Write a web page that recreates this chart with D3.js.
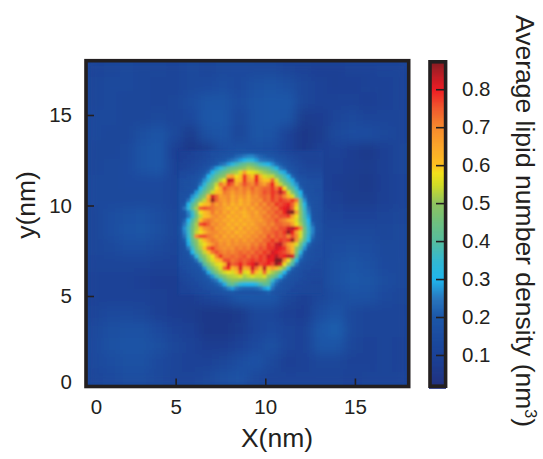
<!DOCTYPE html>
<html lang="en">
<head>
	<meta charset="UTF-8">
	<title>Average lipid number density</title>
	<script src="https://cdn.jsdelivr.net/npm/d3@7"></script>
	<style>
		html, body { margin: 0; padding: 0; background: #fff; }
		text { font-family: "Liberation Sans", Arial, sans-serif; fill: #231f20; }
	</style>
</head>
<body>
	<svg id="content" width="543" height="459"></svg>
<script>
	// values below are density x 100, top row first
	var backgroundRows = [
		[11,12,13,12,12,11,13,12,13,14,13,13,11,10, 9, 9,10,10,11,11],
		[12,13,13,12,11,11,13,14,15,14,17,18,16,12,10, 9, 9,10,10,11],
		[12,13,12,12,11,12,15,19,19,15,19,20,20,12,10,10,10, 9,10,11],
		[13,13,12,12,13,12,14,20,20,13,19,20,19, 7, 8,11,13,11,11,11],
		[13,12,12,16,19,13, 7,17,19,12,19,18,10, 5, 7,13,15,15,13,11],
		[12,12,13,18,20, 9, 5, 7,15,17,16,15,10, 5, 9,10, 8, 6, 9,12],
		[12,13,14,18,20,10, 5, 8,14,20,20,20,15, 9, 9, 9, 8, 7, 9,12],
		[13,13,14,14,14,11, 8,12,20,20,20,20,20,14,10, 8, 7, 6, 9,11],
		[13,13,13,13,13,11,11,16,20,20,20,20,20,16,11, 9, 7, 7, 9,11],
		[12,15,17,18,15,12,14,20,20,20,20,20,20,17,12,11,10,10,11,12],
		[12,15,18,19,16,12,15,20,20,20,20,20,20,20,14,13,13,13,12,13],
		[12,13,15,15,13,11,13,20,20,20,20,20,20,20,14,15,16,15,13,13],
		[11,11,11,11,10,10,11,20,20,20,20,20,20,16,13,17,19,17,14,13],
		[10,10,10, 9, 8, 8, 9,16,20,20,20,20,20,13,13,17,20,19,15,13],
		[10,10,10,10, 9, 8, 8,11,14,20,20,20,12, 9,12,15,17,17,14,12],
		[11,13,13,12, 9, 8, 7, 5, 5, 6,12,12, 9, 8,15,19,13,11,11,11],
		[13,16,17,17,14,10, 9, 5, 5, 7,11,14,11,10,20,21,13,11,11,11],
		[14,17,18,18,16,12,10, 8, 8,10,14,17,11,10,19,19,12,10,11,10],
		[13,15,17,17,14,11,10,10,12,15,18,13, 9,10,12,12,10,10,11,10],
		[12,14,15,15,13,11,11,13,16,18,13,11,11,11,11,11,10,11,11,11]
	];

	// finer cells over the lipid disc
	var discRows = [
		[ 9, 9, 9,10,11,12,13,14,15,15,16,16,17,17,18,18,19,19,19,18,18,17,17,16,15,14,13,12,11,10,10,10,10,10,10,11],
		[ 9, 9,10,10,11,12,13,14,15,16,17,18,19,20,22,23,25,26,26,24,22,21,20,19,17,16,15,14,13,12,11,10,10,10,10,11],
		[ 9,10,10,11,12,13,14,15,16,18,19,20,22,24,26,28,31,34,33,28,25,24,23,22,20,18,17,15,14,13,12,11,10,10,10,11],
		[10,10,11,12,13,14,15,16,18,20,23,25,28,33,37,40,43,46,44,40,36,33,30,27,23,21,19,17,15,14,13,12,11,11,11,11],
		[10,11,12,13,14,15,17,20,23,28,33,37,41,44,46,48,50,52,51,49,46,44,41,37,32,25,22,19,17,15,14,13,12,12,12,12],
		[13,13,14,14,15,17,20,23,30,37,41,45,48,51,52,56,66,58,57,55,53,51,49,45,41,34,29,22,19,16,14,14,13,13,13,13],
		[14,14,15,16,17,19,22,30,37,43,47,50,64,66,58,60,78,66,60,80,62,56,54,54,48,43,37,30,22,19,16,15,14,14,14,14],
		[15,16,16,17,18,21,27,35,42,47,53,58,84,82,60,62,78,68,66,80,66,60,60,74,56,48,42,36,29,21,18,17,16,15,15,15],
		[15,16,16,17,19,24,33,41,47,54,72,66,78,74,64,70,76,72,70,76,70,66,72,80,62,54,48,42,35,27,19,17,16,16,15,15],
		[15,16,17,18,20,30,38,45,50,58,64,76,72,70,72,68,72,70,74,70,72,74,74,78,72,80,58,48,41,33,22,18,16,16,15,15],
		[16,16,17,19,28,37,44,50,55,60,62,72,70,66,70,68,71,66,72,70,72,76,74,78,76,84,76,56,48,39,30,19,17,16,15,15],
		[16,17,18,27,35,43,49,62,82,74,66,68,70,64,68,66,69,64,70,68,72,74,72,78,74,76,70,62,56,44,34,23,18,16,16,15],
		[16,17,24,33,42,49,54,66,86,74,68,66,70,64,68,62,67,64,68,70,68,74,72,77,74,78,76,74,78,72,44,27,19,17,16,15],
		[17,20,31,40,48,58,60,62,72,66,70,64,68,62,66,62,66,64,70,66,72,68,74,72,78,76,78,80,74,60,46,32,21,17,16,15],
		[17,24,33,43,52,74,76,74,72,70,68,66,62,66,62,68,64,68,64,70,68,72,70,74,72,78,80,82,74,58,48,35,24,17,16,16],
		[17,19,26,36,48,58,60,64,72,66,70,64,68,62,66,64,62,66,68,64,70,68,73,72,76,74,80,86,90,66,50,37,26,18,16,15],
		[16,18,25,35,46,54,60,62,68,70,66,68,62,66,63,66,62,64,68,66,68,72,70,74,72,76,76,78,66,58,50,38,28,19,16,15],
		[16,22,30,40,50,60,70,72,70,66,68,64,66,62,66,62,66,64,66,68,66,70,72,72,76,72,70,64,60,56,50,40,30,20,17,15],
		[17,25,35,44,52,76,78,74,68,70,66,68,62,66,62,66,62,66,64,68,70,68,72,70,74,74,72,72,66,58,52,42,33,23,17,16],
		[19,27,37,46,52,60,68,70,72,66,68,64,66,62,68,62,68,64,68,66,70,72,70,74,72,76,76,82,84,80,70,46,35,26,18,16],
		[18,26,36,46,54,58,62,68,70,70,66,68,64,68,62,66,64,68,66,70,68,72,72,74,76,74,78,86,80,66,56,46,36,26,18,16],
		[17,24,35,46,70,76,76,72,70,66,70,64,68,64,68,64,68,66,70,68,72,70,76,72,76,74,76,70,76,70,56,44,34,24,17,16],
		[16,21,32,43,50,56,62,68,72,70,66,68,66,70,66,70,66,70,68,72,70,74,74,78,74,78,76,78,86,68,52,41,31,21,17,16],
		[16,18,29,40,48,54,58,62,68,72,68,70,66,70,68,70,70,68,72,70,74,72,78,76,82,84,74,66,62,56,46,35,23,18,16,15],
		[15,17,25,36,46,52,60,74,78,72,70,68,70,68,72,70,72,70,74,72,76,74,78,78,82,80,78,70,62,50,40,27,19,17,15,15],
		[15,17,19,30,41,48,54,60,72,76,72,70,72,70,72,74,72,74,72,76,74,78,76,82,80,78,76,72,64,48,33,21,17,16,15,15],
		[15,16,18,22,34,44,50,54,58,70,78,72,72,74,72,74,76,72,76,74,78,76,82,80,84,78,80,84,82,42,26,19,17,16,15,15],
		[15,16,17,19,24,38,46,52,56,60,64,76,76,72,74,76,74,76,78,76,78,76,80,80,88,92,70,58,46,32,21,18,16,15,15,14],
		[15,15,16,18,19,24,40,47,52,56,58,62,82,74,76,80,74,78,80,84,76,78,80,76,86,82,58,50,38,24,18,16,15,15,14,14],
		[14,15,16,17,18,20,27,41,47,52,56,74,80,62,66,82,64,66,82,72,62,84,60,66,62,54,48,33,22,18,17,15,15,14,14,14],
		[13,14,15,16,17,18,21,29,40,47,52,55,58,56,60,76,56,58,76,60,56,74,56,52,48,42,30,22,18,17,15,14,14,13,13,13],
		[12,13,14,15,16,17,19,22,27,38,45,49,52,53,54,56,52,54,56,54,54,56,50,46,40,30,23,19,17,16,15,14,13,13,13,13],
		[11,12,13,14,15,16,18,19,22,25,33,42,47,50,50,48,47,47,47,48,50,49,44,36,26,22,19,17,16,15,14,13,13,12,12,12],
		[10,11,12,13,14,15,16,18,19,21,24,29,40,43,38,33,31,30,30,33,38,42,40,27,22,19,17,16,15,14,13,13,12,12,12,12],
		[10,10,11,12,13,14,15,16,17,18,20,22,26,28,25,23,22,22,22,23,25,28,30,24,20,18,17,16,14,13,13,12,12,12,12,12],
		[10,10,10,11,12,13,13,14,15,16,17,18,19,20,19,18,18,18,18,18,19,20,21,19,17,16,15,14,13,13,12,12,12,12,12,12]
	];

	var colorStops = [0.013,0.05,0.1,0.2,0.25,0.3,0.35,0.4,0.45,0.5,0.55,0.58,0.6,0.64,0.7,0.75,0.8,0.84,0.877];
	var colorValues = ["#23307e","#1f3888","#1b4297","#1c57a8","#2a78bf","#20b6ec","#35b8d0","#56bd9e","#6fc080","#8fc45f","#d3dc26","#f2e01c","#fdc121","#fcac2a","#f68a2e","#f15a2f","#ed1c24","#b81e26","#7f1d22"];

	var axisTicks = [0,5,10,15];
	var colorTicks = [0.1,0.2,0.3,0.4,0.5,0.6,0.7,0.8];
	var discExtentX = [5.16,13.19];
	var discExtentY = [13.05,5.09];

	var ink = "#231f20";
	var svg = d3.select("#content");

	var xScale = d3.scaleLinear().domain([0,18]).range([86,408.7]);
	var yScale = d3.scaleLinear().domain([0,18]).range([386.5,60.7]);
	var colorScale = d3.scaleLinear().domain(colorStops).range(colorValues).clamp(true);

	var defs = svg.append("defs");
	defs.append("clipPath").attr("id","plot-clip").append("rect")
		.attr("x",xScale(0)).attr("y",yScale(18))
		.attr("width",xScale(18)-xScale(0)).attr("height",yScale(0)-yScale(18));
	function addBlur(id, size) {
		defs.append("filter").attr("id",id)
			.attr("filterUnits","userSpaceOnUse")
			.attr("x",0).attr("y",0).attr("width",543).attr("height",459)
			.append("feGaussianBlur").attr("stdDeviation",size);
	}
	addBlur("blur-wide",5.5);
	addBlur("blur-fine",1.3);

	// draw one table of cells with band scales
	function drawCells(parent, rows, extentX, extentY) {
		var colBand = d3.scaleBand().domain(d3.range(rows[0].length)).range(extentX.map(xScale));
		var rowBand = d3.scaleBand().domain(d3.range(rows.length)).range(extentY.map(yScale));
		parent.selectAll("g")
			.data(rows)
			.enter()
			.append("g")
			.attr("transform",function(d,i){ return "translate(0," + rowBand(i) + ")"; })
			.selectAll("rect")
			.data(function(d){ return d; })
			.enter()
			.append("rect")
			.attr("x",function(d,i){ return colBand(i); })
			.attr("width",colBand.bandwidth()+0.5)
			.attr("height",rowBand.bandwidth()+0.5)
			.attr("fill",function(d){ return colorScale(d/100); });
	}

	var plot = svg.append("g").attr("clip-path","url(#plot-clip)");
	plot.append("rect")
		.attr("x",xScale(0)).attr("y",yScale(18))
		.attr("width",xScale(18)-xScale(0)).attr("height",yScale(0)-yScale(18))
		.attr("fill",colorScale(0.12));
	drawCells(plot.append("g").attr("filter","url(#blur-wide)"), backgroundRows, [0,18], [18,0]);
	drawCells(plot.append("g").attr("filter","url(#blur-fine)"), discRows, discExtentX, discExtentY);

	// axes, ticks point inward
	var xAxis = svg.append("g")
		.attr("transform","translate(0," + yScale(0) + ")")
		.call(d3.axisBottom(xScale).tickValues(axisTicks).tickSize(-8).tickPadding(13));
	var yAxis = svg.append("g")
		.attr("transform","translate(" + xScale(0) + ",0)")
		.call(d3.axisLeft(yScale).tickValues(axisTicks).tickSize(-8).tickPadding(14));
	[xAxis,yAxis].forEach(function(a){
		a.select(".domain").remove();
		a.selectAll("line").attr("stroke",ink).attr("stroke-width",1.6)
			.filter(function(d){ return d === 0; }).remove();
		a.selectAll("text").style("font-size","20.5px").attr("font-family",null);
	});
	// the zeros sit off the corner
	xAxis.selectAll("text").filter(function(d){ return d === 0; }).attr("dx",10);
	yAxis.selectAll("text").filter(function(d){ return d === 0; }).attr("y",-5).attr("x",-14);

	svg.append("rect")
		.attr("x",xScale(0)).attr("y",yScale(18))
		.attr("width",xScale(18)-xScale(0)).attr("height",yScale(0)-yScale(18))
		.attr("fill","none").attr("stroke",ink).attr("stroke-width",3.6);

	svg.append("text").attr("x",277).attr("y",447).attr("text-anchor","middle")
		.style("font-size","26.5px").text("X(nm)");
	svg.append("text").attr("transform","translate(35,205) rotate(-90)").attr("text-anchor","middle")
		.style("font-size","26.5px").text("y(nm)");

	// colour bar
	var barScale = d3.scaleLinear().domain([0.013,0.877]).range([388,60]);
	var bar = svg.append("g");
	bar.selectAll("rect")
		.data(d3.range(0.013,0.877,0.003))
		.enter()
		.append("rect")
		.attr("x",429).attr("width",17)
		.attr("y",function(d){ return barScale(d+0.003); })
		.attr("height",2)
		.attr("fill",function(d){ return colorScale(d); });
	bar.append("rect")
		.attr("x",430).attr("y",61.8).attr("width",15.6).attr("height",324.4)
		.attr("fill","none").attr("stroke",ink).attr("stroke-width",3.6);
	var barAxis = svg.append("g")
		.attr("transform","translate(444,0)")
		.call(d3.axisRight(barScale).tickValues(colorTicks).tickFormat(d3.format(".1f")).tickSize(-8).tickPadding(18));
	barAxis.select(".domain").remove();
	barAxis.selectAll("line").attr("stroke",ink).attr("stroke-width",1.6);
	barAxis.selectAll("text").style("font-size","20.5px").attr("font-family",null);

	var title = svg.append("text").attr("transform","translate(516,221) rotate(90)").attr("text-anchor","middle")
		.style("font-size","26.5px");
	title.append("tspan").text("Average lipid number density (nm");
	title.append("tspan").attr("dy",-9).style("font-size","16px").text("3");
	title.append("tspan").attr("dy",9).text(")");
</script>
</body>
</html>
